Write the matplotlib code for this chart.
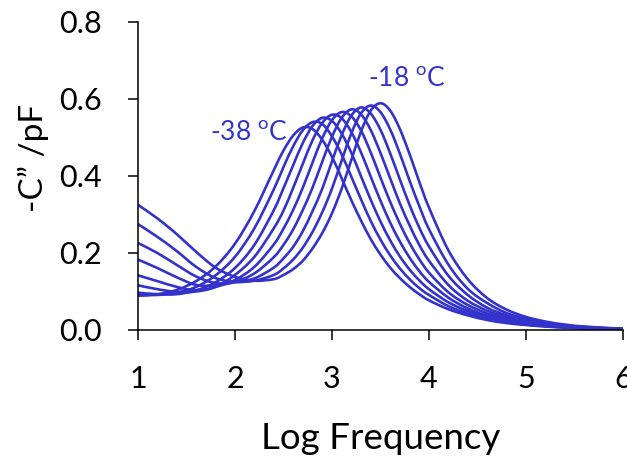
import matplotlib
matplotlib.use("Agg")
import matplotlib.pyplot as plt
from matplotlib.path import Path
from matplotlib.patches import PathPatch

plt.rcParams['font.family'] = ['Lato', 'DejaVu Sans']
plt.rcParams['mathtext.fontset'] = 'custom'
plt.rcParams['mathtext.rm'] = 'Lato'

# log frequency grid the curves were read at
log_freq = [1.0, 1.2, 1.4, 1.6, 1.8, 2.0, 2.2, 2.4, 2.5, 2.6, 2.7, 2.8, 2.9,
            3.0, 3.1, 3.2, 3.3, 3.4, 3.5, 3.6, 3.7, 3.8, 3.9, 4.0, 4.2, 4.4,
            4.6, 4.8, 5.0, 5.2, 5.4, 5.6, 5.8, 6.0]

# -C'' (pF), coldest (-38 C) to warmest (-18 C)
c_1 = [0.089, 0.093, 0.104, 0.127, 0.165, 0.224, 0.309, 0.415, 0.466, 0.505, 0.526, 0.522, 0.494,
       0.450, 0.394, 0.337, 0.284, 0.236, 0.196, 0.162, 0.135, 0.112, 0.093, 0.077, 0.054, 0.038,
       0.026, 0.018, 0.013, 0.009, 0.006, 0.004, 0.003, 0.002]
c_2 = [0.091, 0.091, 0.097, 0.112, 0.142, 0.190, 0.264, 0.365, 0.423, 0.477, 0.519, 0.540, 0.535,
       0.503, 0.456, 0.398, 0.339, 0.283, 0.235, 0.194, 0.160, 0.132, 0.109, 0.091, 0.062, 0.043,
       0.029, 0.020, 0.014, 0.010, 0.007, 0.005, 0.003, 0.002]
c_3 = [0.097, 0.093, 0.093, 0.103, 0.124, 0.161, 0.221, 0.311, 0.368, 0.428, 0.486, 0.530, 0.551,
       0.543, 0.510, 0.460, 0.399, 0.338, 0.282, 0.233, 0.191, 0.157, 0.129, 0.106, 0.072, 0.049,
       0.033, 0.023, 0.016, 0.011, 0.007, 0.005, 0.003, 0.002]
c_4 = [0.116, 0.106, 0.099, 0.100, 0.112, 0.143, 0.190, 0.264, 0.310, 0.369, 0.432, 0.493, 0.538,
       0.559, 0.550, 0.514, 0.461, 0.398, 0.336, 0.279, 0.230, 0.188, 0.153, 0.125, 0.084, 0.056,
       0.037, 0.025, 0.017, 0.012, 0.008, 0.005, 0.003, 0.002]
c_5 = [0.142, 0.127, 0.112, 0.103, 0.112, 0.130, 0.164, 0.222, 0.263, 0.312, 0.370, 0.435, 0.498,
       0.545, 0.566, 0.555, 0.518, 0.461, 0.396, 0.333, 0.276, 0.226, 0.184, 0.149, 0.098, 0.065,
       0.043, 0.028, 0.020, 0.013, 0.008, 0.006, 0.004, 0.002]
c_6 = [0.183, 0.161, 0.137, 0.117, 0.116, 0.125, 0.147, 0.189, 0.221, 0.261, 0.312, 0.370, 0.437,
       0.502, 0.551, 0.573, 0.560, 0.519, 0.460, 0.394, 0.329, 0.272, 0.221, 0.180, 0.117, 0.076,
       0.050, 0.033, 0.022, 0.015, 0.009, 0.006, 0.004, 0.003]
c_7 = [0.226, 0.200, 0.169, 0.139, 0.122, 0.124, 0.134, 0.162, 0.186, 0.216, 0.257, 0.309, 0.367,
       0.438, 0.506, 0.557, 0.578, 0.562, 0.520, 0.459, 0.391, 0.325, 0.266, 0.217, 0.141, 0.091,
       0.058, 0.038, 0.025, 0.016, 0.010, 0.007, 0.004, 0.003]
c_8 = [0.275, 0.242, 0.205, 0.164, 0.135, 0.125, 0.128, 0.143, 0.160, 0.183, 0.214, 0.255, 0.306,
       0.367, 0.440, 0.511, 0.563, 0.583, 0.566, 0.521, 0.458, 0.388, 0.322, 0.262, 0.170, 0.107,
       0.070, 0.044, 0.029, 0.019, 0.012, 0.008, 0.005, 0.003]
c_9 = [0.325, 0.290, 0.249, 0.203, 0.162, 0.138, 0.128, 0.132, 0.143, 0.158, 0.180, 0.212, 0.252,
       0.303, 0.367, 0.442, 0.516, 0.570, 0.589, 0.570, 0.522, 0.457, 0.385, 0.318, 0.207, 0.132,
       0.083, 0.053, 0.034, 0.022, 0.014, 0.009, 0.006, 0.003]

x_ticks = [1, 2, 3, 4, 5, 6]
y_ticks = [0.0, 0.2, 0.4, 0.6, 0.8]

blue = '#3333CC'


def smooth_path(xs, ys):
    # smoothed line through the points (Catmull-Rom as cubic Bezier, like Excel)
    pts = list(zip(xs, ys))
    n = len(pts)
    verts = [pts[0]]
    codes = [Path.MOVETO]
    for i in range(n - 1):
        p0 = pts[max(i - 1, 0)]
        p1 = pts[i]
        p2 = pts[i + 1]
        p3 = pts[min(i + 2, n - 1)]
        c1 = (p1[0] + (p2[0] - p0[0]) / 6, p1[1] + (p2[1] - p0[1]) / 6)
        c2 = (p2[0] - (p3[0] - p1[0]) / 6, p2[1] - (p3[1] - p1[1]) / 6)
        verts += [c1, c2, p2]
        codes += [Path.CURVE4, Path.CURVE4, Path.CURVE4]
    return Path(verts, codes)


fig = plt.figure(figsize=(6.27, 4.57), dpi=100)
ax = fig.add_axes([0.220, 0.2779, 0.7736, 0.6740])

for c in [c_1, c_2, c_3, c_4, c_5, c_6, c_7, c_8, c_9]:
    ax.add_patch(PathPatch(smooth_path(log_freq, c), fill=False,
                           edgecolor=blue, lw=1.9, capstyle='round'))

ax.set_xlim(1, 6)
ax.set_ylim(0, 0.8)
ax.set_xticks(x_ticks)
ax.set_yticks(y_ticks)
ax.set_yticklabels([f"{v:.1f}" for v in y_ticks])

for s in ['top', 'right']:
    ax.spines[s].set_visible(False)
for s in ['left', 'bottom']:
    ax.spines[s].set_linewidth(1.1)
    ax.spines[s].set_color('black')

ax.tick_params(direction='out', length=7.2, width=1.1, labelsize=22)
ax.tick_params(axis='x', pad=18)
ax.tick_params(axis='y', pad=18.5)

ax.set_xlabel('Log Frequency', fontsize=26.5)
ax.xaxis.set_label_coords(0.5, -0.30)
ax.set_ylabel('-C\u201d /pF', fontsize=24)
ax.yaxis.set_label_coords(-0.183, 0.56)

# temperature labels
ax.text(1.742, 0.491, r'-38 $^{\mathrm{o}}$C', color=blue, fontsize=19, va='baseline')
ax.text(3.371, 0.631, r'-18 $^{\mathrm{o}}$C', color=blue, fontsize=19, va='baseline')

fig.savefig('out.png', dpi=100)
